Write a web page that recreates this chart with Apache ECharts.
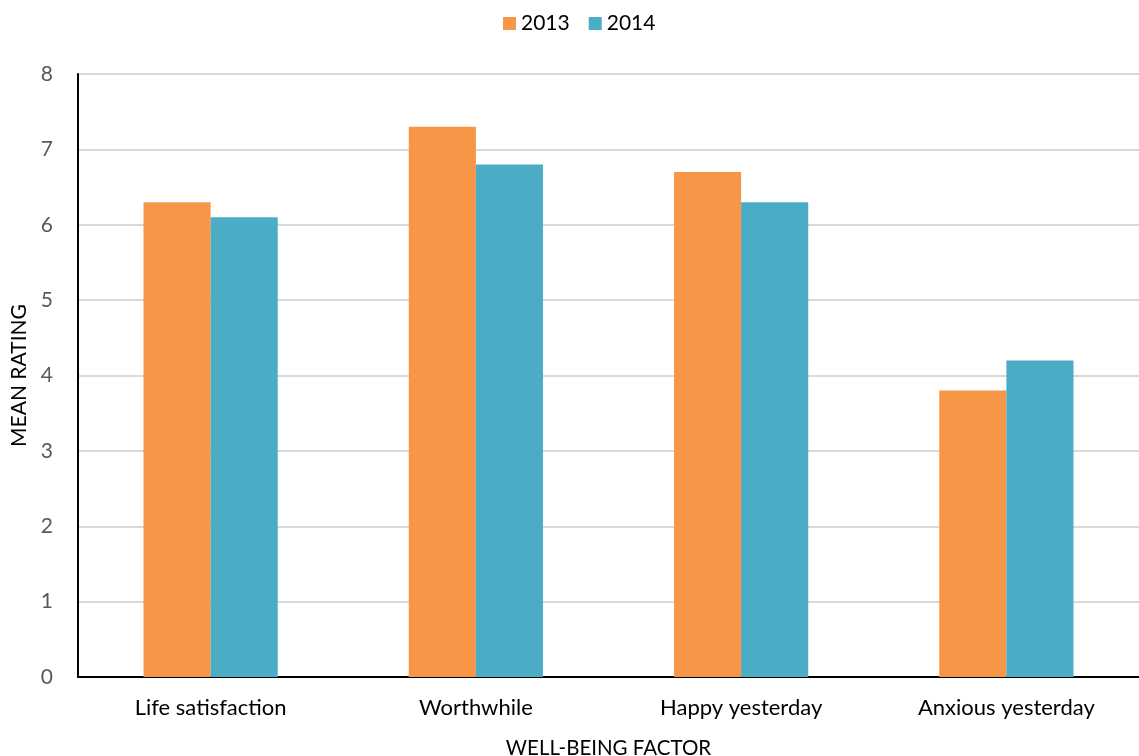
<!DOCTYPE html>
<html>
<head>
<meta charset="utf-8">
<script src="https://cdn.jsdelivr.net/npm/echarts@6/dist/echarts.min.js"></script>
<style>
  html, body { margin: 0; padding: 0; background: #fff; overflow: hidden; }
  #chart { width: 100vw; height: 100vh; }
</style>
</head>
<body>
<div id="chart"></div>
<script>
const factors = ["Life satisfaction", "Worthwhile", "Happy yesterday", "Anxious yesterday"];
const years = ["2013", "2014"];
const values2013 = [6.3, 7.3, 6.7, 3.8];
const values2014 = [6.1, 6.8, 6.3, 4.2];

const font = "Lato";
const chart = echarts.init(document.getElementById("chart"));

chart.setOption({
  animation: false,
  textStyle: { fontFamily: font },
  color: ["#F79646", "#4BACC6"],
  legend: {
    data: years,
    top: 8,
    left: 503,
    padding: [5, 0],
    itemWidth: 13,
    itemHeight: 13,
    itemGap: 19,
    icon: "rect",
    textStyle: { fontSize: 21, color: "#000", fontFamily: font },
  },
  grid: { left: 78, right: 0, top: 74, bottom: 79, containLabel: false, outerBoundsMode: "none" },
  xAxis: {
    type: "category",
    data: factors,
    name: "WELL-BEING FACTOR",
    nameLocation: "middle",
    nameGap: 61,
    nameTextStyle: { fontSize: 20.5, color: "#000" },
    axisLine: { lineStyle: { color: "#000", width: 2 } },
    axisTick: { show: false },
    axisLabel: { fontSize: 22, color: "#000", margin: 20 },
  },
  yAxis: {
    type: "value",
    min: 0,
    max: 8,
    interval: 1,
    name: "MEAN RATING",
    nameLocation: "middle",
    nameGap: 46,
    nameRotate: 90,
    nameTextStyle: { fontSize: 21, color: "#000" },
    axisLine: { show: true, lineStyle: { color: "#000", width: 2 } },
    axisTick: { show: false },
    axisLabel: { fontSize: 21, color: "#595959", margin: 25 },
    splitLine: { lineStyle: { color: "#d9d9d9", width: 2 } },
  },
  series: [
    { name: "2013", type: "bar", data: values2013, barGap: "0%", barCategoryGap: "49.4%" },
    { name: "2014", type: "bar", data: values2014, barGap: "0%", barCategoryGap: "49.4%" },
  ],
});
window.addEventListener("resize", () => chart.resize());
</script>
</body>
</html>
